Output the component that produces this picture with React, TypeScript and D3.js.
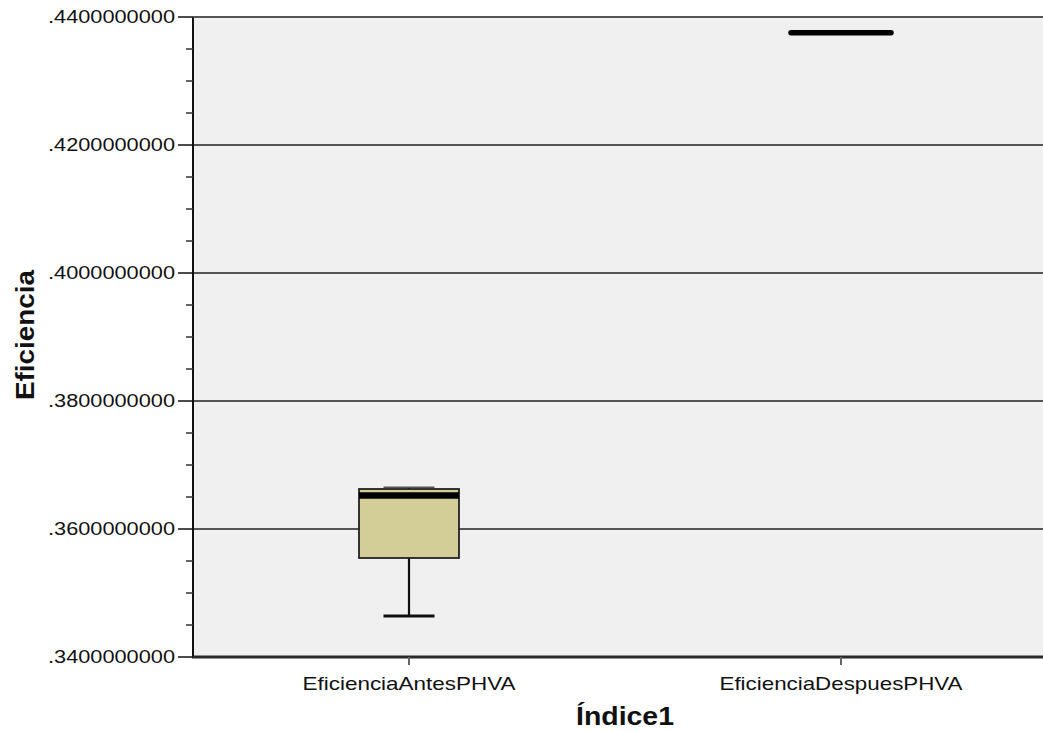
import React from "react";
import * as d3 from "d3";

const categories = ["EficienciaAntesPHVA", "EficienciaDespuesPHVA"];
const minValues = [0.34641, 0.43755];
const q1Values = [0.35547, 0.43755];
const medianValues = [0.36523, 0.43755];
const q3Values = [0.36625, 0.43755];
const maxValues = [0.36651, 0.43755];
const yMajorTicks = [0.34, 0.36, 0.38, 0.40, 0.42, 0.44];
const yTitle = "Eficiencia";
const xTitle = "Índice1";

const W = 1043;
const H = 731;
const left = 193;
const right = 1057;
const top = 17;
const bottom = 657;

export default function App() {
  const y = d3.scaleLinear().domain([0.34, 0.44]).range([bottom, top]);
  const x = d3.scaleBand().domain(categories).range([left, right]);
  const minorTicks = d3.range(0, 21).map((i) => 0.34 + i * 0.005).filter((v) => !yMajorTicks.some((m) => Math.abs(m - v) < 1e-9));
  const fmt = (v: number) => d3.format(".10f")(v).replace(/^0/, "");
  const font = "'Liberation Sans', Arial, sans-serif";
  const boxW = 100;
  const capW = 51;

  return (
    <svg width={W} height={H} style={{ position: "absolute", left: 0, top: 0, background: "#fff" }}>
      <rect x={left} y={top} width={right - left} height={bottom - top} fill="#f0f0f0" />
      {yMajorTicks.map((t) => (
        <line key={"g" + t} x1={left} x2={right} y1={y(t)} y2={y(t)} stroke="#222" strokeWidth={1.5} />
      ))}
      {categories.map((c, i) => {
        const cx = x(c)! + x.bandwidth() / 2;
        const same = minValues[i] === maxValues[i] && q1Values[i] === q3Values[i];
        if (same) {
          return (
            <line key={c} x1={cx - boxW / 2} x2={cx + boxW / 2} y1={y(medianValues[i])} y2={y(medianValues[i])} stroke="#000" strokeWidth={5.5} strokeLinecap="round" />
          );
        }
        return (
          <g key={c}>
            <line x1={cx} x2={cx} y1={y(q1Values[i])} y2={y(minValues[i])} stroke="#111" strokeWidth={2.2} />
            <line x1={cx} x2={cx} y1={y(q3Values[i])} y2={y(maxValues[i])} stroke="#111" strokeWidth={2} />
            <line x1={cx - capW / 2} x2={cx + capW / 2} y1={y(minValues[i])} y2={y(minValues[i])} stroke="#111" strokeWidth={2.8} />
            <line x1={cx - capW / 2} x2={cx + capW / 2} y1={y(maxValues[i])} y2={y(maxValues[i])} stroke="#555" strokeWidth={1.5} />
            <rect x={cx - boxW / 2} y={y(q3Values[i])} width={boxW} height={y(q1Values[i]) - y(q3Values[i])} fill="#d3ce97" stroke="#222" strokeWidth={1.8} />
            <line x1={cx - boxW / 2} x2={cx + boxW / 2} y1={y(medianValues[i])} y2={y(medianValues[i])} stroke="#000" strokeWidth={6.5} />
          </g>
        );
      })}
      <line x1={left} x2={left} y1={top} y2={bottom} stroke="#111" strokeWidth={2} />
      <line x1={left - 1} x2={right} y1={bottom} y2={bottom} stroke="#2a2a2a" strokeWidth={3} />
      <line x1={left} x2={right} y1={top} y2={top} stroke="#555" strokeWidth={2} />
      {yMajorTicks.map((t) => (
        <g key={"t" + t}>
          <line x1={left - 15} x2={left} y1={y(t)} y2={y(t)} stroke="#111" strokeWidth={1.5} />
          <text x={175} y={y(t)} dy="0.33em" textAnchor="end" fontFamily={font} fontSize={18} fill="#111" textLength={127} lengthAdjust="spacingAndGlyphs">
            {fmt(t)}
          </text>
        </g>
      ))}
      {minorTicks.map((t) => (
        <line key={"m" + t} x1={left - 7} x2={left} y1={y(t)} y2={y(t)} stroke="#333" strokeWidth={1.5} />
      ))}
      {categories.map((c) => {
        const cx = x(c)! + x.bandwidth() / 2;
        return (
          <g key={"x" + c}>
            <line x1={cx} x2={cx} y1={bottom} y2={bottom + 8} stroke="#666" strokeWidth={2} />
            <text x={cx} y={690} textAnchor="middle" fontFamily={font} fontSize={19} fill="#111" textLength={c.length > 19 ? 243 : 213} lengthAdjust="spacingAndGlyphs">
              {c}
            </text>
          </g>
        );
      })}
      <text x={(left + right) / 2} y={725} textAnchor="middle" fontFamily={font} fontSize={25} fontWeight="bold" fill="#111" textLength={98} lengthAdjust="spacingAndGlyphs">
        {xTitle}
      </text>
      <text transform={`translate(34, ${(top + bottom) / 2 - 2}) rotate(-90)`} textAnchor="middle" fontFamily={font} fontSize={25} fontWeight="bold" fill="#111" textLength={130} lengthAdjust="spacingAndGlyphs">
        {yTitle}
      </text>
    </svg>
  );
}
